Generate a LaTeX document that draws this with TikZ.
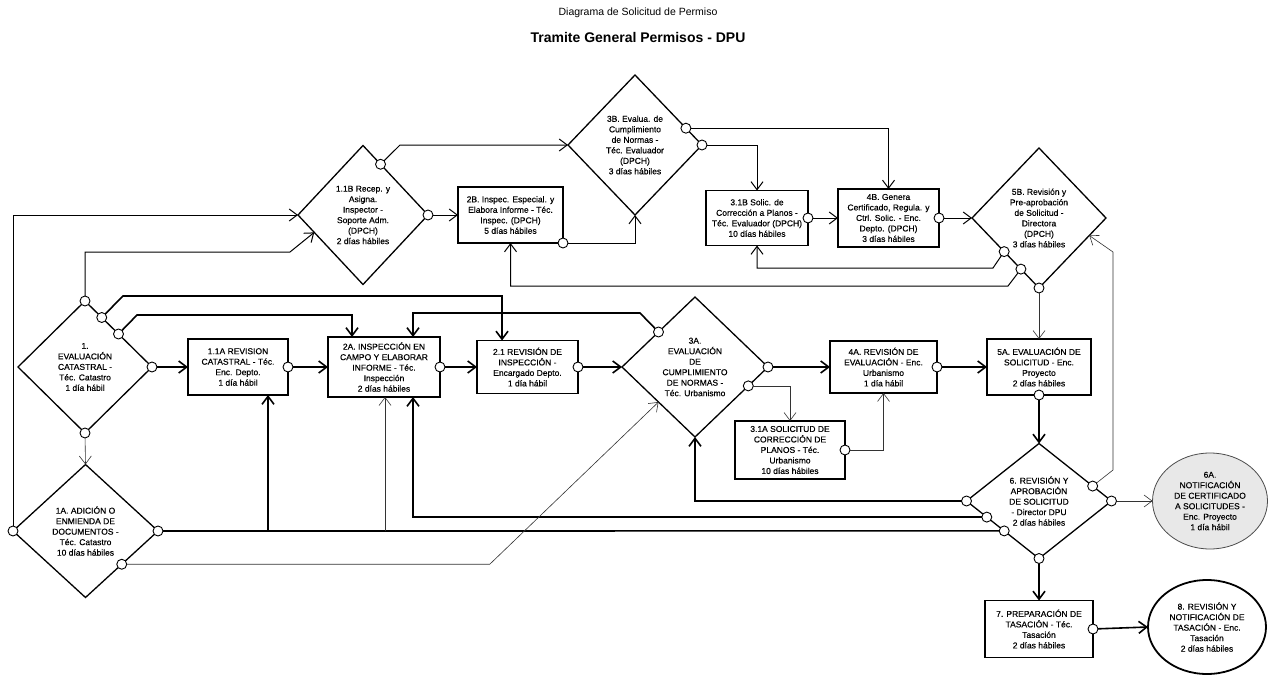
\documentclass[tikz,border=0pt]{standalone}
\usepackage{fontspec}
\setmainfont{Liberation Sans}
\newfontfamily\nodefam[FakeBold=0.35]{Liberation Sans}
\usetikzlibrary{calc,shapes.geometric,arrows.meta}
\newcommand{\dfont}{\nodefam\fontsize{8.5}{10.5}\selectfont}
\tikzset{
 box/.style={draw, line width=1.4pt, rectangle, inner sep=1pt, outer sep=0pt, align=center, font=\dfont},
 dia/.style={draw, line width=1.3pt, diamond, aspect=1, inner sep=0pt, outer sep=0pt, align=center, font=\dfont},
 ell/.style={draw, ellipse, inner sep=0pt, outer sep=0pt, align=center, font=\dfont},
 port/.style={circle, draw, fill=white, line width=0.9pt, minimum size=10pt, inner sep=0pt, outer sep=0pt},
 mainln/.style={line width=1.6pt},
 mainarr/.style={line width=1.6pt, -{Straight Barb[length=8pt,width=12pt]}},
 midarr/.style={line width=1.0pt, -{Straight Barb[length=8pt,width=12pt]}},
 thinarr/.style={line width=0.6pt, black!80, -{Straight Barb[length=8pt,width=12pt]}},
}
\begin{document}
\begin{tikzpicture}[x=1pt,y=-1pt]
\fill[white] (0,0) rectangle (1270,677);
\useasboundingbox (0,0) rectangle (1270,677);

% titles
\node[font=\fontsize{10.5}{12}\selectfont] (t1) at (638,13) {Diagrama de Solicitud de Permiso};
\node[font=\bfseries\fontsize{14}{16}\selectfont] (t2) at (638,37) {Tramite General Permisos - DPU};

% main row
\node[dia, minimum width=134pt, minimum height=132pt] (d1) at (85,367) {1.\\EVALUACIÓN\\CATASTRAL -\\Téc. Catastro\\1 día hábil};
\node[dia, minimum width=145pt, minimum height=133pt] (d1A) at (85.5,531) {1A. ADICIÓN O\\ENMIENDA DE\\DOCUMENTOS -\\Téc. Catastro\\10 días hábiles};
\node[box, minimum width=100pt, minimum height=56pt] (b11A) at (238,367) {1.1A REVISION\\CATASTRAL - Téc.\\Enc. Depto.\\1 día hábil};
\node[box, minimum width=112pt, minimum height=60pt] (b2A) at (384,367) {2A. INSPECCIÓN EN\\CAMPO Y ELABORAR\\INFORME - Téc.\\Inspección\\2 días hábiles};
\node[box, minimum width=101pt, minimum height=53pt] (b21) at (527.5,367) {2.1 REVISIÓN DE\\INSPECCIÓN -\\Encargado Depto.\\1 día hábil};
\node[dia, minimum width=146pt, minimum height=140pt] (d3A) at (695,367) {3A.\\EVALUACIÓN\\DE\\CUMPLIMIENTO\\DE NORMAS -\\Téc. Urbanismo};
\node[box, minimum width=107pt, minimum height=52pt] (b4A) at (883.5,367) {4A. REVISIÓN DE\\EVALUACIÓN - Enc.\\Urbanismo\\1 día hábil};
\node[box, minimum width=110pt, minimum height=58pt] (b31A) at (790,450) {3.1A SOLICITUD DE\\CORRECCIÓN DE\\PLANOS - Téc.\\Urbanismo\\10 días hábiles};
\node[box, minimum width=104pt, minimum height=56pt] (b5A) at (1039,367) {5A. EVALUACIÓN DE\\SOLICITUD - Enc.\\Proyecto\\2 días hábiles};
\node[dia, minimum width=145pt, minimum height=115pt] (d6) at (1039,501) {6. REVISIÓN Y\\APROBACIÓN\\DE SOLICITUD\\- Director DPU\\2 días hábiles};
\node[ell, fill=black!9, draw=black!70, line width=0.8pt, minimum width=115pt, minimum height=96pt] (e6A) at (1210,501) {6A.\\NOTIFICACIÓN\\DE CERTIFICADO\\A SOLICITUDES -\\Enc. Proyecto\\1 día hábil};
\node[box, minimum width=108pt, minimum height=57pt] (b7) at (1039,629) {7. PREPARACIÓN DE\\TASACIÓN - Téc.\\Tasación\\2 días hábiles};
\node[ell, line width=1.8pt, minimum width=118pt, minimum height=94pt] (e8) at (1207,627) {8. REVISIÓN Y\\NOTIFICACIÓN DE\\TASACIÓN - Enc.\\Tasación\\2 días hábiles};

% top row
\node[dia, minimum width=130pt, minimum height=139pt] (d11B) at (363,215) {1.1B Recep. y\\Asigna.\\Inspector -\\Soporte Adm.\\(DPCH)\\2 días hábiles};
\node[box, minimum width=105pt, minimum height=56pt] (b2B) at (510.5,215) {2B. Inspec. Especial. y\\Elabora Informe - Téc.\\Inspec. (DPCH)\\5 días hábiles};
\node[dia, minimum width=134pt, minimum height=140pt] (d3B) at (635,145) {3B. Evalua. de\\Cumplimiento\\de Normas -\\Téc. Evaluador\\(DPCH)\\3 días hábiles};
\node[box, minimum width=102pt, minimum height=55pt] (b31B) at (757,218) {3.1B Solic. de\\Corrección a Planos -\\Téc. Evaluador (DPCH)\\10 días hábiles};
\node[box, minimum width=101pt, minimum height=58pt] (b4B) at (888.5,218) {4B. Genera\\Certificado, Regula. y\\Ctrl. Solic. - Enc.\\Depto. (DPCH)\\3 días hábiles};
\node[dia, minimum width=134pt, minimum height=140pt] (d5B) at (1039,218) {5B. Revisión y\\Pre-aprobación\\de Solicitud -\\Directora\\(DPCH)\\3 días hábiles};

% ports
\node[port] (p1t) at (d1.north) {};
\node[port] (p1a) at ($(d1.north)!0.25!(d1.east)$) {};
\node[port] (p1b) at ($(d1.north)!0.5!(d1.east)$) {};
\node[port] (p1e) at (d1.east) {};
\node[port] (p1s) at (d1.south) {};
\node[port] (p1Aw) at (d1A.west) {};
\node[port] (p1Ae) at (d1A.east) {};
\node[port] (p1Ase) at ($(d1A.east)!0.5!(d1A.south)$) {};
\node[port] (p11Ae) at (b11A.east) {};
\node[port] (p2Ae) at (b2A.east) {};
\node[port] (p21e) at (b21.east) {};
\node[port] (p3Anw) at ($(d3A.north)!0.5!(d3A.west)$) {};
\node[port] (p3Ae) at (d3A.east) {};
\node[port] (p3Ase) at ($(d3A.east)!0.27!(d3A.south)$) {};
\node[port] (p31Ae) at (b31A.east) {};
\node[port] (p4Ae) at (b4A.east) {};
\node[port] (p5As) at (b5A.south) {};
\node[port] (p6n) at ($(d6.north)!0.74!(d6.east)$) {};
\node[port] (p6e) at (d6.east) {};
\node[port] (p6w) at (d6.west) {};
\node[port] (p6a) at ($(d6.west)!0.28!(d6.south)$) {};
\node[port] (p6b) at ($(d6.west)!0.52!(d6.south)$) {};
\node[port] (p6s) at (d6.south) {};
\node[port] (p7e) at (b7.east) {};
\node[port] (p11Bn) at ($(d11B.north)!0.27!(d11B.east)$) {};
\node[port] (p11Be) at (d11B.east) {};
\node[port] (p2Bse) at (b2B.south east) {};
\node[port] (p3Bn) at ($(d3B.north)!0.76!(d3B.east)$) {};
\node[port] (p3Be) at (d3B.east) {};
\node[port] (p31Be) at (b31B.east) {};
\node[port] (p4Be) at (b4B.east) {};
\node[port] (p5Ba) at ($(d5B.west)!0.48!(d5B.south)$) {};
\node[port] (p5Bb) at ($(d5B.west)!0.73!(d5B.south)$) {};
\node[port] (p5Bs) at (d5B.south) {};

\coordinate (j1) at (268,531);
\coordinate (j2) at (385,531);

% main flow
\draw[mainarr] (p1e) -- (b11A.west);
\draw[mainarr] (p11Ae) -- (b2A.west);
\draw[mainarr] (p2Ae) -- (b21.west);
\draw[mainarr] (p21e) -- (d3A.west);
\draw[mainarr] (p3Ae) -- (b4A.west);
\draw[mainarr] (p4Ae) -- (b5A.west);
\draw[mainarr] (p5As) -- (d6.north);
\draw[thinarr] (p6e) -- (e6A.west);
\draw[mainarr] (p6s) -- (b7.north);
\draw[mainarr] (p7e) -- (e8.west);
\draw[thinarr] (p1s) -- (d1A.north);

% top connectors
\draw[midarr] (p1Aw) |- (d11B.west);
\draw[midarr] (p1t) -- (85,252) -- (290,252) -- ($(d11B.west)!0.25!(d11B.south)$);
\draw[midarr] (p11Be) -- (b2B.west);
\draw[midarr] (p11Bn) -- (400,145) -- (d3B.west);
\draw[midarr] (p2Bse) -| (d3B.south);
\draw[midarr] (p3Bn) -| (b4B.north);
\draw[midarr] (p3Be) -| (b31B.north);
\draw[midarr] (p31Be) -- (b4B.west);
\draw[midarr] (p4Be) -- (d5B.west);
\draw[midarr] (p5Ba) -- (993,268) -| (b31B.south);
\draw[midarr] (p5Bb) -- (1008,286) -| (b2B.south);
\draw[thinarr] (p5Bs) -- (b5A.north);
\draw[thinarr] (p6n) -- (1113,470) -- (1113,252) -- ($(d5B.east)!0.25!(d5B.south)$);

% middle connectors
\draw[mainarr] (p1a) -- (123,296) -| ($(b21.north)+(-25.5,0)$);
\draw[mainarr] (p1b) -- (137,315) -| ($(b2A.north)+(-32,0)$);
\draw[mainarr] (p3Anw) -- (640,313) -| ($(b2A.north)+(29,0)$);
\draw[thinarr] (p3Ase) -| (b31A.north);
\draw[thinarr] (p31Ae) -| (b4A.south);

% bottom connectors
\draw[mainarr] (p6w) -| (d3A.south);
\draw[mainarr] (p6a) -| ($(b2A.south)+(29,0)$);
\draw[mainln] (p1Ae) -- (p6b);
\draw[mainarr] (j1) -- ($(b11A.south)+(30,0)$);
\draw[thinarr] (j2) -- (b2A.south -| j2);
\draw[thinarr] (p1Ase) -- ++(368,0) -- ($(d3A.west)!0.5!(d3A.south)$);
\end{tikzpicture}
\end{document}
